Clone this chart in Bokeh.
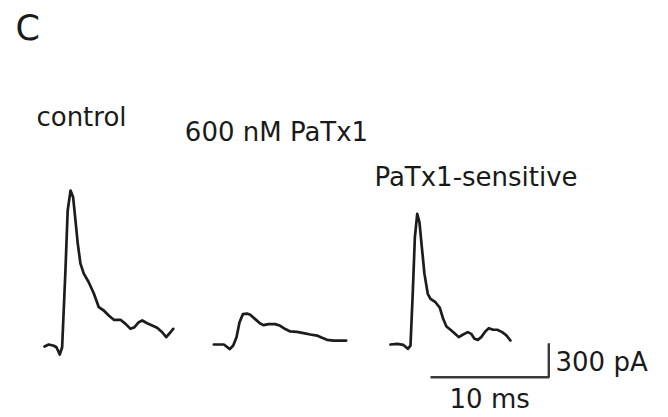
from bokeh.plotting import figure
from bokeh.models import Range1d
from bokeh.core.properties import value
from bokeh.embed import file_html
from bokeh.resources import INLINE

# ---- data (time in ms from trace onset, current in pA relative to baseline) ----
control_t = [0, 0.36, 0.79, 1.01, 1.29, 1.49, 1.77, 1.96, 2.20, 2.42, 2.62, 2.81, 3.04,
             3.32, 3.74, 4.17, 4.59, 5.01, 5.43, 5.86, 6.42, 6.85, 7.27, 7.61, 7.97,
             8.26, 8.68, 9.10, 9.52, 9.95, 10.29, 10.65, 10.88]
control_i = [-18, 0, -11, -24, -88, -24, 653, 1182, 1358, 1299, 1094, 891, 714,
             626, 549, 450, 329, 300, 256, 218, 218, 182, 138, 153, 197,
             212, 188, 168, 147, 108, 65, 108, 138]

patx_t = [0, 0.85, 1.07, 1.35, 1.64, 1.92, 2.17, 2.46, 2.80, 3.08, 3.50, 3.92, 4.20,
          4.63, 5.19, 5.62, 6.04, 6.46, 7.03, 7.59, 8.16, 8.72, 9.15, 9.57, 10.13,
          10.69, 11.19]
patx_i = [0, 0, -18, -41, -9, 64, 194, 268, 273, 262, 224, 185, 171,
          180, 180, 165, 136, 115, 112, 100, 88, 79, 59, 41, 35,
          35, 35]

sens_t = [0, 0.57, 1.07, 1.46, 1.69, 1.89, 2.06, 2.26, 2.45, 2.65, 2.87, 3.15, 3.38,
          3.80, 4.17, 4.45, 4.73, 5.07, 5.41, 5.77, 6.14, 6.53, 6.82, 7.10, 7.38,
          7.67, 8.03, 8.31, 8.68, 9.02, 9.44, 9.81, 10.14]
sens_i = [0, 6, -3, -38, -9, 476, 946, 1152, 1078, 858, 623, 447, 403,
          373, 324, 227, 159, 130, 100, 65, 88, 109, 94, 50, 41,
          65, 117, 144, 130, 130, 109, 79, 35]

trace_labels = ["control", "600 nM PaTx1", "PaTx1-sensitive"]
panel_label = "C"
scale_ms = 10
scale_pa = 300
scale_labels = ["10 ms", "300 pA"]

# ---- layout / scaling ----
W, H = 664, 414
PX_PER_MS = 11.83
PA_PER_PX = 300 / 34.0
BASE_PX = 344  # baseline row in page pixels

def X(px):
    return px / PX_PER_MS

def Y(py):
    return (BASE_PX - py) * PA_PER_PX

p = figure(width=W, height=H, output_backend="svg", toolbar_location=None,
           x_range=Range1d(X(0), X(W)), y_range=Range1d(Y(H), Y(0)),
           min_border=0, min_border_left=0, min_border_right=0,
           min_border_top=0, min_border_bottom=0)
p.axis.visible = False
p.grid.visible = False
p.outline_line_color = None
p.background_fill_color = "white"
p.border_fill_color = "white"

trace_color = "#1c1c1c"
lw = 2.7
offsets = [X(44), X(213.3), X(390)]
for (tt, ii), off in zip([(control_t, control_i), (patx_t, patx_i), (sens_t, sens_i)], offsets):
    p.line([t + off for t in tt], ii, line_color=trace_color, line_width=lw,
           line_join="round", line_cap="round")

# scale bar
sx0 = X(430)
sy0 = Y(376.7)
p.line([sx0, sx0 + scale_ms, sx0 + scale_ms], [sy0, sy0, sy0 + scale_pa],
       line_color="#3a3a3a", line_width=2.4)

font = value("DejaVu Sans")
tc = "#1a1a1a"
fs = "26px"
p.text(x=[X(15)], y=[Y(27)], text=[panel_label], text_font=font, text_font_size="35px",
       text_color=tc, text_align="left", text_baseline="alphabetic")
p.text(x=[X(81), X(276), X(475.5)], y=[Y(116.5), Y(131), Y(176.5)], text=trace_labels,
       text_font=font, text_font_size=fs, text_color=tc,
       text_align="center", text_baseline="alphabetic")
p.text(x=[sx0 + scale_ms / 2], y=[Y(398)], text=[scale_labels[0]], text_font=font,
       text_font_size=fs, text_color=tc, text_align="center", text_baseline="alphabetic")
p.text(x=[X(555)], y=[Y(361.5)], text=[scale_labels[1]], text_font=font,
       text_font_size=fs, text_color=tc, text_align="left", text_baseline="alphabetic")

open("out.html", "w").write(file_html(p, INLINE))
